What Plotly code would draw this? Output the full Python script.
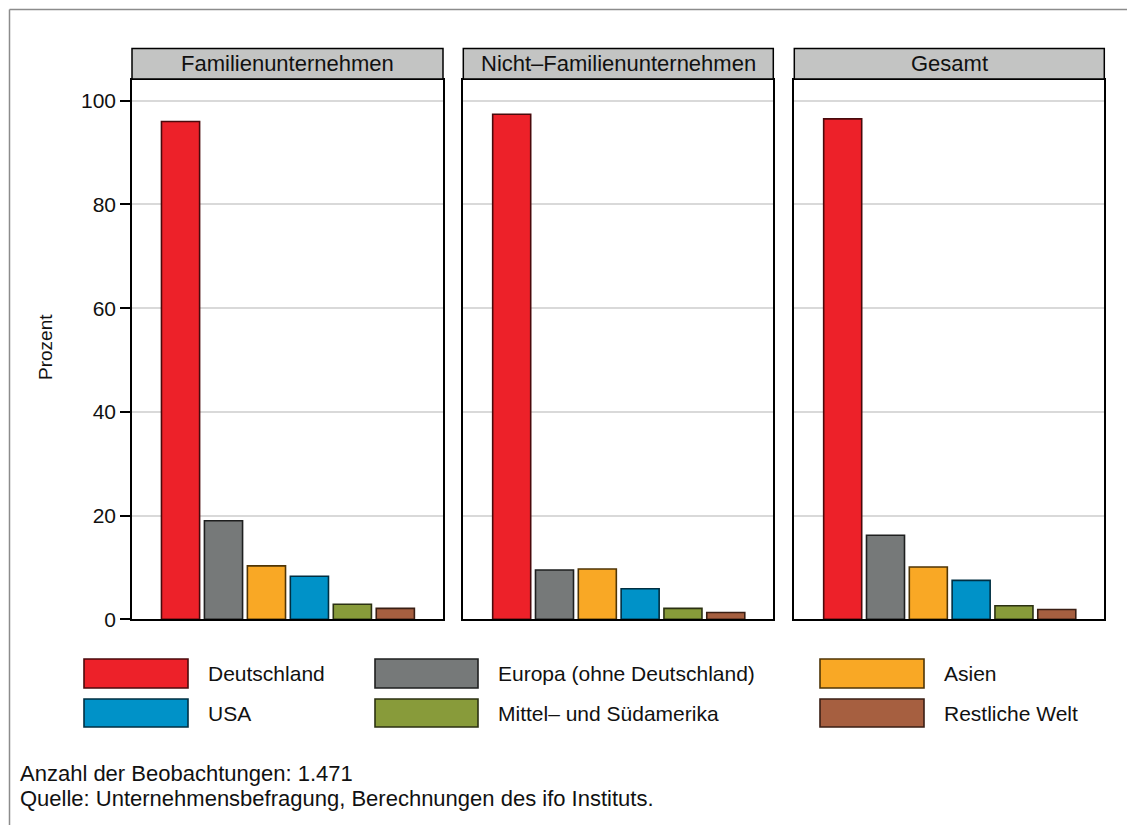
import plotly.graph_objects as go

# The page adds an 8px body margin, so the figure is sized to fill the rest
OFF = 8
W, H = 1135 - OFF, 825 - OFF

regions = ["Deutschland", "Europa (ohne Deutschland)", "Asien", "USA",
           "Mittel\u2013 und Südamerika", "Restliche Welt"]
colors = ["#ED2129", "#767979", "#F9A825", "#0092C8", "#889B3A", "#A65F40"]
outline = ["#4a0a0c", "#1e1f1f", "#4f3506", "#002f42", "#2b3112", "#3a1f14"]

panels = ["Familienunternehmen", "Nicht\u2013Familienunternehmen", "Gesamt"]
familie = [96.0, 19.0, 10.3, 8.3, 2.9, 2.1]
nicht_familie = [97.4, 9.5, 9.7, 5.9, 2.1, 1.3]
gesamt = [96.5, 16.2, 10.1, 7.5, 2.6, 1.9]
values = [familie, nicht_familie, gesamt]

yticks = [0, 20, 40, 60, 80, 100]
footnotes = ["Anzahl der Beobachtungen: 1.471",
             "Quelle: Unternehmensbefragung, Berechnungen des ifo Instituts."]

FONT = "Liberation Sans, Arial, sans-serif"
TXT = "#111111"

def px(x):
    return (x - OFF) / W

def py(y):
    return 1 - (y - OFF) / H

panel_px = [(132, 443), (463.3, 773.3), (794.3, 1104.3)]
top_px, bot_px = 80, 619.3

fig = go.Figure()
for i, (name, vals) in enumerate(zip(panels, values)):
    ax = "" if i == 0 else str(i + 1)
    fig.add_trace(go.Bar(
        x=regions, y=vals, xaxis="x" + ax, yaxis="y" + ax,
        marker=dict(color=colors, line=dict(color=outline, width=1.6)),
        showlegend=False, hoverinfo="x+y"))
    x0, x1 = panel_px[i]
    fig.layout["xaxis" + ax] = dict(
        domain=[px(x0), px(x1)], anchor="y" + ax, type="category",
        range=[-1.13, 6.11], showticklabels=False, ticks="",
        showgrid=False, zeroline=False, showline=True, mirror=True,
        linecolor="#000000", linewidth=1.5, fixedrange=True, automargin=False)
    fig.layout["yaxis" + ax] = dict(
        domain=[py(bot_px), py(top_px)], anchor="x" + ax,
        range=[0, 104], tickvals=yticks, showticklabels=(i == 0),
        ticks="outside" if i == 0 else "", ticklen=10, tickwidth=1.5,
        tickcolor="#000000", tickfont=dict(family=FONT, size=21, color=TXT),
        showgrid=True, gridcolor="#d9d9d9", gridwidth=1.5, zeroline=False,
        showline=True, mirror=True, linecolor="#000000", linewidth=1.5,
        automargin=False, fixedrange=True)
    # strip header
    fig.add_shape(type="rect", xref="paper", yref="paper",
                  x0=px(x0), x1=px(x1), y0=py(79), y1=py(48.5),
                  fillcolor="#c3c4c3", line=dict(color="#000000", width=1.5))
    fig.add_annotation(xref="paper", yref="paper", x=px((x0 + x1) / 2), y=py(64),
                       text=name, showarrow=False, xanchor="center", yanchor="middle",
                       font=dict(family=FONT, size=22, color=TXT))

# outer frame (left and top)
fig.add_shape(type="line", xref="paper", yref="paper", x0=px(9.5), x1=px(9.5),
              y0=0, y1=py(9.5), line=dict(color="#8c8c8c", width=1.5))
fig.add_shape(type="line", xref="paper", yref="paper", x0=px(9.5), x1=1,
              y0=py(9.5), y1=py(9.5), line=dict(color="#8c8c8c", width=1.5))

# y axis title
fig.add_annotation(xref="paper", yref="paper", x=px(45), y=py(347), text="Prozent",
                   textangle=-90, showarrow=False, xanchor="center", yanchor="middle",
                   font=dict(family=FONT, size=19, color=TXT))

# legend (manual, 3 columns x 2 rows)
col_box = [(84, 188), (375, 478), (820, 924)]
col_text = [206, 496, 942]
rows = [(659, 688), (699, 727)]
for k, (reg, col, oc) in enumerate(zip(regions, colors, outline)):
    r, c = divmod(k, 3)
    bx0, bx1 = col_box[c]
    by0, by1 = rows[r]
    fig.add_shape(type="rect", xref="paper", yref="paper",
                  x0=px(bx0), x1=px(bx1), y0=py(by1), y1=py(by0),
                  fillcolor=col, line=dict(color=oc, width=1.6))
    fig.add_annotation(xref="paper", yref="paper", x=px(col_text[c]),
                       y=py((by0 + by1) / 2), text=reg, showarrow=False,
                       xanchor="left", yanchor="middle",
                       font=dict(family=FONT, size=21, color=TXT))

# footnotes
for j, t in enumerate(footnotes):
    fig.add_annotation(xref="paper", yref="paper", x=px(18), y=py(773 + 25 * j),
                       text=t, showarrow=False, xanchor="left", yanchor="middle",
                       font=dict(family=FONT, size=22, color=TXT))

fig.update_layout(
    template="none", width=W, height=H,
    margin=dict(l=0, r=0, t=0, b=0, pad=0),
    paper_bgcolor="#ffffff", plot_bgcolor="#ffffff",
    bargap=0.112, showlegend=False,
)

fig.write_html("out.html", config={"displayModeBar": False})
